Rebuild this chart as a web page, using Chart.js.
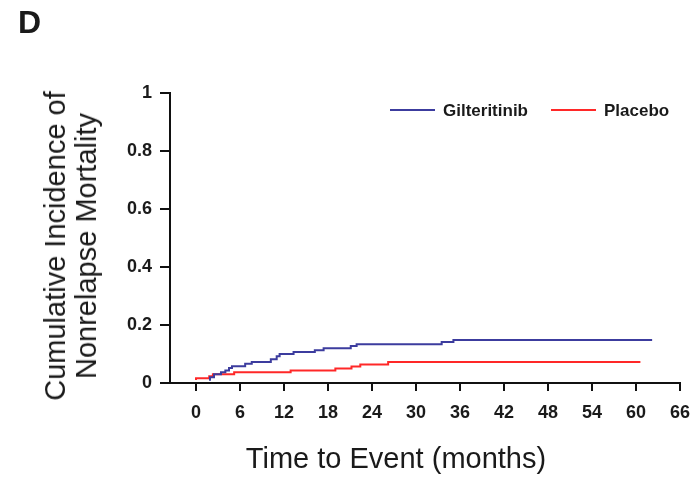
<html>
<head>
<script src="https://cdn.jsdelivr.net/npm/chart.js"></script>
<style>
  body { margin: 0; background: #fff; }
  #wrap { position: relative; width: 693px; height: 477px; }
  #wrap canvas { position: absolute; left: 0; top: 0; }
  .lbl { position: absolute; font-family: "Liberation Sans", Arial, sans-serif; color: #1a1a1a; white-space: nowrap; }
  #panel { left: 18px; top: 4px; font-size: 32px; font-weight: bold; }
  #xtitle { left: 396px; top: 458px; font-size: 29px; transform: translate(-50%, -50%); }
  #ytitle { left: 71px; top: 246px; font-size: 29px; line-height: 31px; text-align: center;
            transform: translate(-50%, -50%) rotate(-90deg); }
</style>
</head>
<body>
<div id="wrap">
  <canvas id="km" width="693" height="477"></canvas>
  <div class="lbl" id="panel">D</div>
  <div class="lbl" id="xtitle">Time to Event (months)</div>
  <div class="lbl" id="ytitle">Cumulative Incidence of<br>Nonrelapse Mortality</div>
</div>

<script>
const seriesNames = ["Gilteritinib", "Placebo"];

const gilTime  = [1.9, 2.45, 3.4, 4.0, 4.5, 4.9, 6.7, 7.6, 10.2, 11.0, 11.4, 13.3, 16.2, 17.4, 21.1, 21.9, 33.5, 35.1, 40.0, 62.2];
const gilValue = [0.008, 0.02, 0.03, 0.037, 0.043, 0.052, 0.058, 0.066, 0.072, 0.082, 0.092, 0.1, 0.107, 0.113, 0.12, 0.128, 0.134, 0.141, 0.148, 0.148];

const plaTime  = [0, 1.8, 2.3, 5.2, 12.9, 19.0, 21.2, 22.4, 26.2, 30.1, 60.6];
const plaValue = [0.01, 0.016, 0.023, 0.03, 0.037, 0.043, 0.05, 0.057, 0.064, 0.072, 0.072];

const xTicks = [0, 6, 12, 18, 24, 30, 36, 42, 48, 54, 60, 66];
const yTicks = [0, 0.2, 0.4, 0.6, 0.8, 1];

const blue = "rgb(60, 60, 158)";
const red = "rgb(255, 40, 40)";

function pts(t, v) {
    return t.map((x, i) => ({x: x, y: v[i]}));
}

// legend drawn at the top right of the plot
const lineLegend = {
    id: 'lineLegend',
    afterDraw(chart) {
        const ctx = chart.ctx;
        const spots = [{x: 390, text: 443}, {x: 551, text: 604}];
        const y = 110;
        ctx.save();
        ctx.font = "bold 17px 'Liberation Sans', Arial, sans-serif";
        ctx.textBaseline = 'middle';
        chart.data.datasets.forEach((ds, i) => {
            const s = spots[i];
            ctx.strokeStyle = ds.borderColor;
            ctx.lineWidth = 2;
            ctx.beginPath();
            ctx.moveTo(s.x, y);
            ctx.lineTo(s.x + 45, y);
            ctx.stroke();
            ctx.fillStyle = '#1a1a1a';
            ctx.fillText(ds.label, s.text, y + 1);
        });
        ctx.restore();
    }
};

const tickFont = {family: "'Liberation Sans', Arial, sans-serif", size: 18, weight: 'bold'};

new Chart(document.getElementById('km'), {
    type: 'line',
    data: {
        datasets: [
            {label: seriesNames[0], data: pts(gilTime, gilValue), borderColor: blue, borderWidth: 2, pointRadius: 0, stepped: 'after', fill: false},
            {label: seriesNames[1], data: pts(plaTime, plaValue), borderColor: red, borderWidth: 2, pointRadius: 0, stepped: 'after', fill: false}
        ]
    },
    options: {
        responsive: false,
        animation: false,
        layout: {padding: {left: 0, right: 13, top: 93, bottom: 0}},
        plugins: {legend: {display: false}, tooltip: {enabled: false}},
        scales: {
            x: {
                type: 'linear',
                min: -3.55,
                max: 66,
                afterBuildTicks: s => { s.ticks = xTicks.map(v => ({value: v})); },
                afterFit: s => { s.height = 94; s.paddingLeft = 0; s.paddingRight = 0; },
                grid: {drawOnChartArea: false, tickLength: 8, color: '#111', lineWidth: 2},
                border: {color: '#111', width: 2},
                ticks: {autoSkip: false, maxRotation: 0, padding: 11, color: '#1a1a1a', font: tickFont,
                        callback: v => String(v)}
            },
            y: {
                min: 0,
                max: 1,
                afterBuildTicks: s => { s.ticks = yTicks.map(v => ({value: v})); },
                afterFit: s => { s.width = 170; s.paddingTop = 0; s.paddingBottom = 0; },
                grid: {drawOnChartArea: false, tickLength: 10, color: '#111', lineWidth: 2},
                border: {color: '#111', width: 2},
                ticks: {padding: 8, color: '#1a1a1a', font: tickFont,
                        callback: v => String(v)}
            }
        }
    },
    plugins: [lineLegend]
});
</script>
</body>
</html>
